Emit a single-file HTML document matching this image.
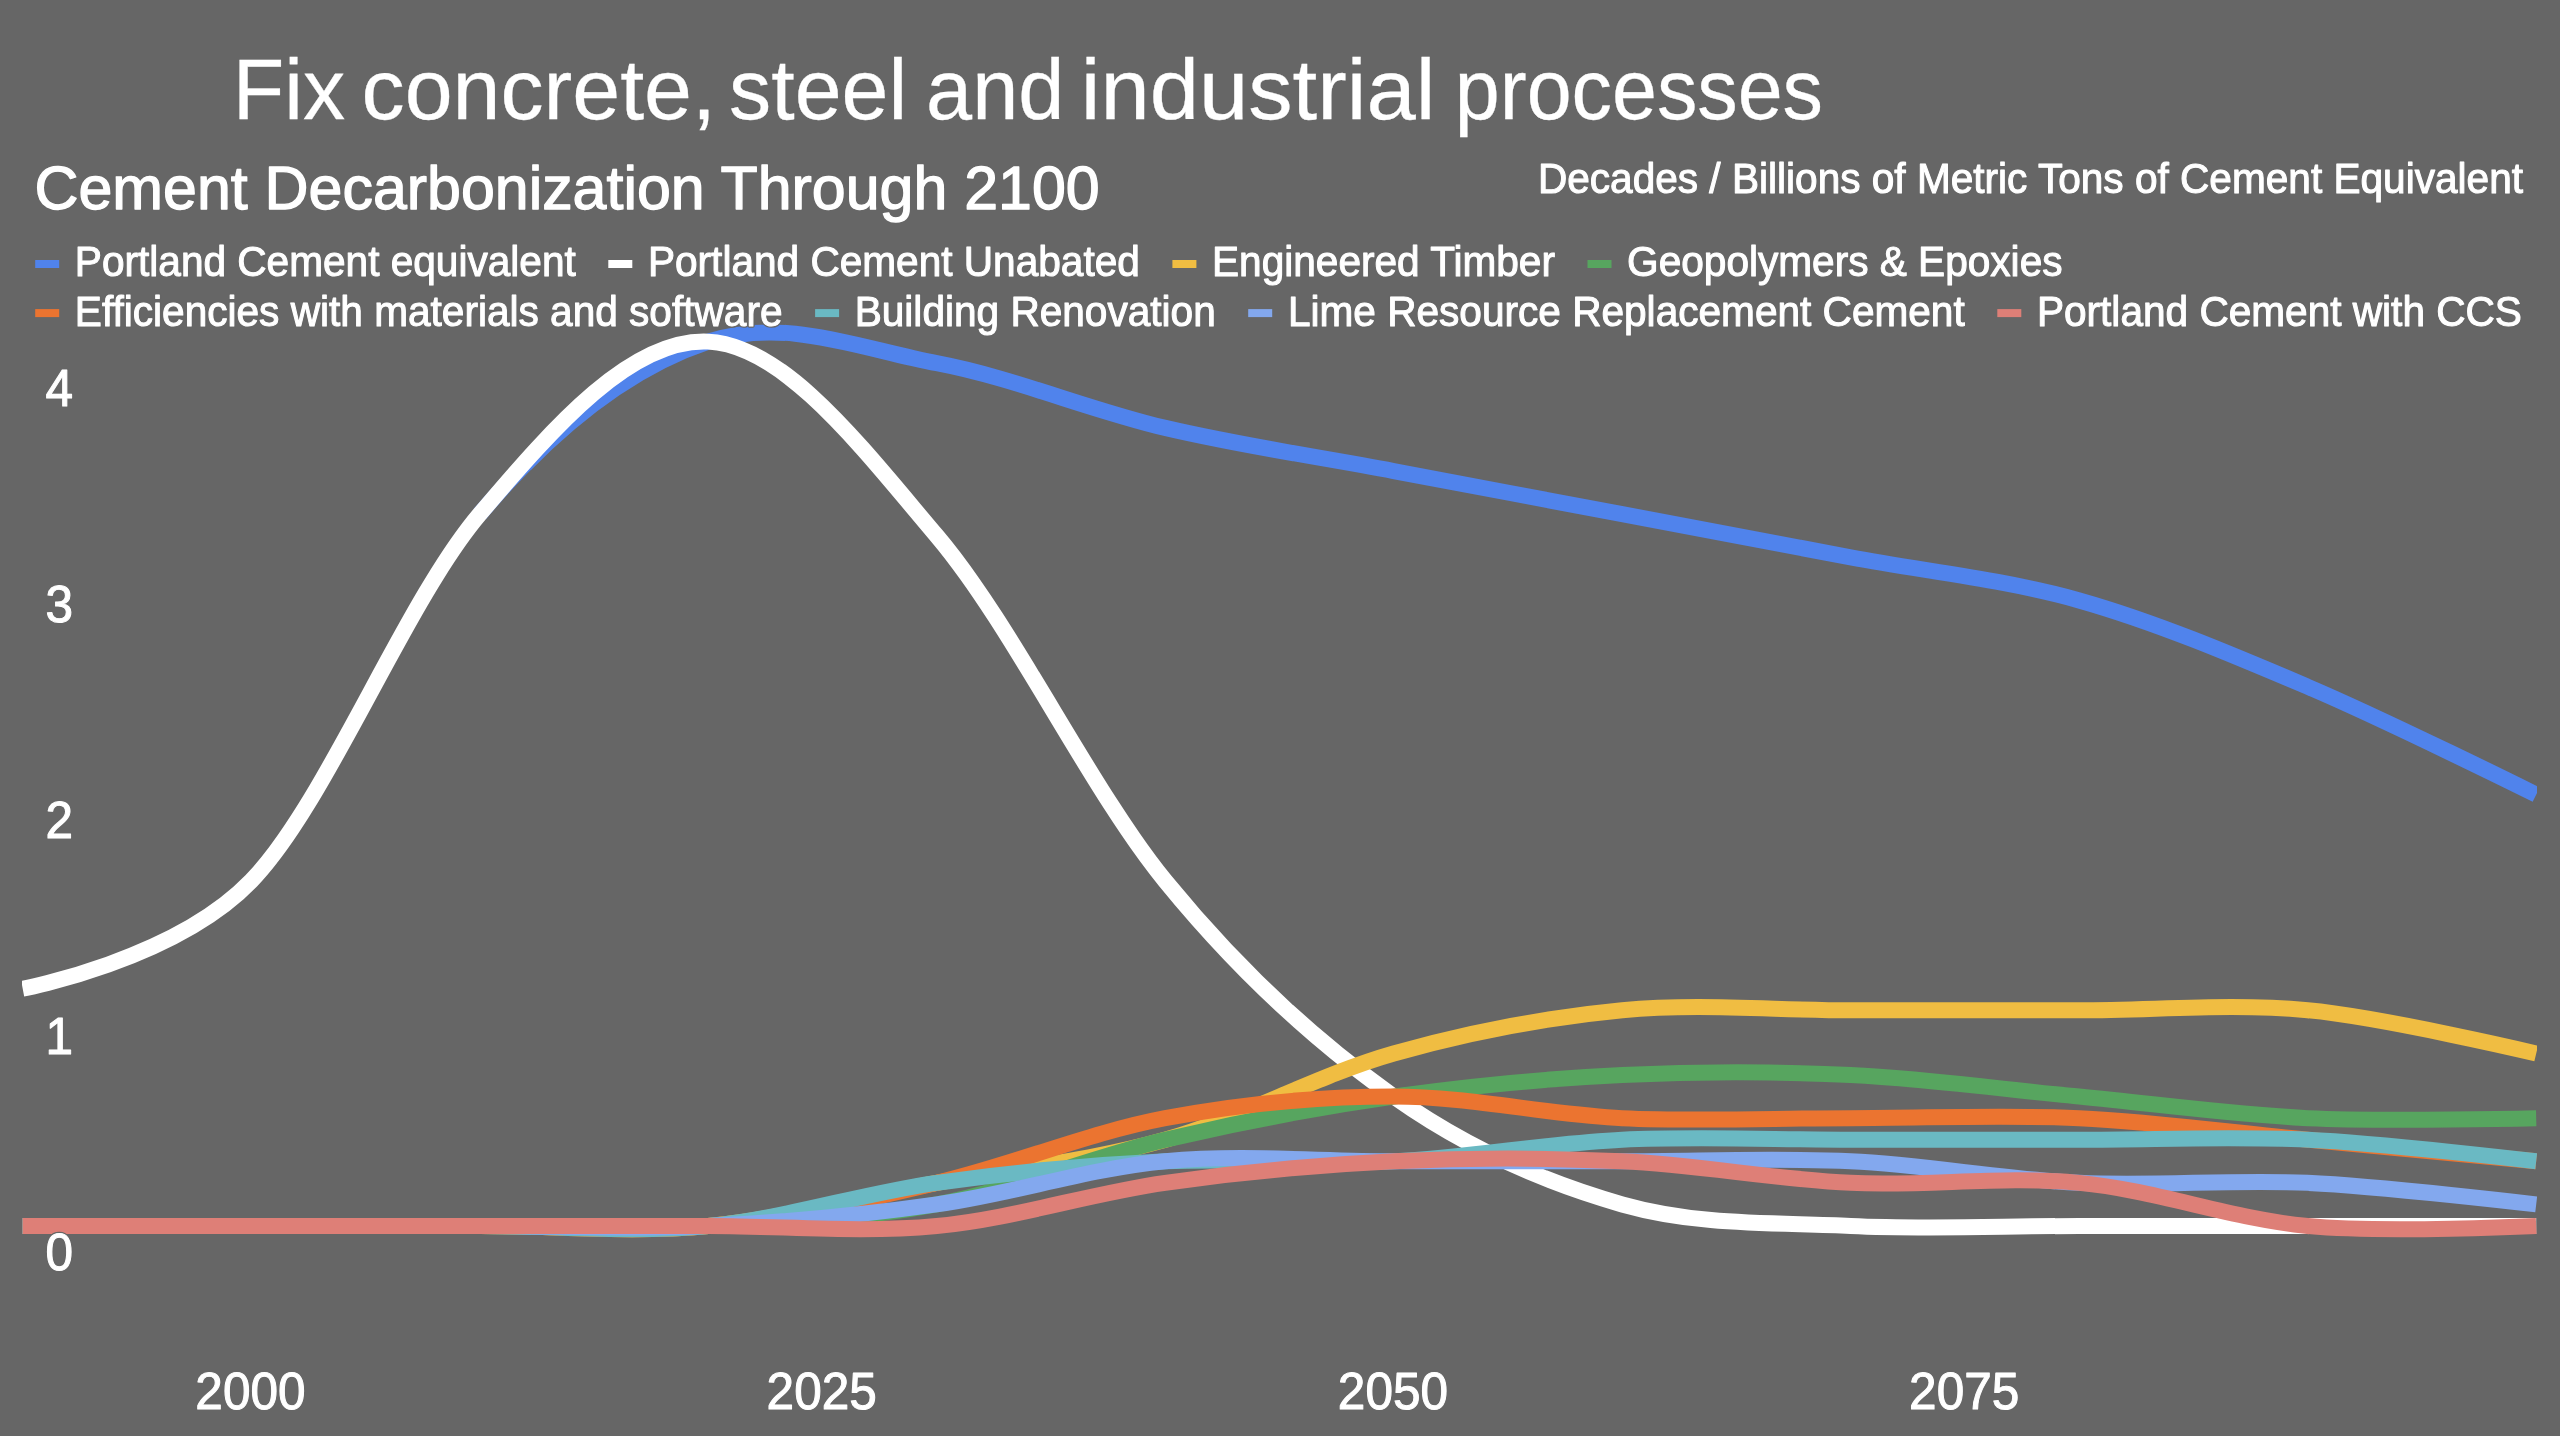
<!DOCTYPE html>
<html><head><meta charset="utf-8"><title>Cement Decarbonization Through 2100</title>
<style>
html,body{margin:0;padding:0;background:#666666;}
body{width:2560px;height:1436px;overflow:hidden;}
svg{display:block;font-family:"Liberation Sans",sans-serif;will-change:transform;}
.soft{filter:blur(0.6px);}
text{fill:#fff;}
.lines path{fill:none;stroke-width:16;stroke-linecap:butt;stroke-linejoin:round;}
</style></head>
<body>
<svg width="2560" height="1436" viewBox="0 0 2560 1436">
<clipPath id="ca"><rect x="22.1" y="300" width="2514" height="1000"/></clipPath>
<g class="soft">
<g class="lines" clip-path="url(#ca)">
<path d="M479.70,514.19C555.87,424.32 632.03,366.80 708.20,341.63C784.37,316.47 860.53,348.82 936.70,363.20C1012.87,377.58 1089.03,409.93 1165.20,427.91C1241.37,445.88 1317.53,456.67 1393.70,471.05C1469.87,485.43 1546.03,499.81 1622.20,514.19C1698.37,528.57 1774.53,542.95 1850.70,557.33C1926.87,571.71 2003.03,578.90 2079.20,600.47C2155.37,622.04 2231.53,654.39 2307.70,686.75C2383.87,719.11 2536.20,794.60 2536.20,794.60" stroke="#5083ec"/>
<path d="M22.70,988.73C22.70,988.73 175.03,959.97 251.20,880.88C327.37,801.79 403.53,604.07 479.70,514.19C555.87,424.32 632.03,338.04 708.20,341.63C784.37,345.23 860.53,445.88 936.70,535.76C1012.87,625.63 1089.03,787.41 1165.20,880.88C1241.37,974.35 1317.53,1042.65 1393.70,1096.58C1469.87,1150.50 1546.03,1182.86 1622.20,1204.43C1698.37,1226.00 1774.53,1222.40 1850.70,1226.00C1926.87,1229.60 2003.03,1226.00 2079.20,1226.00C2155.37,1226.00 2231.53,1226.00 2307.70,1226.00C2383.87,1226.00 2536.20,1226.00 2536.20,1226.00" stroke="#ffffff"/>
<path d="M22.70,1226.00C22.70,1226.00 175.03,1226.00 251.20,1226.00C327.37,1226.00 403.53,1226.00 479.70,1226.00C555.87,1226.00 632.03,1233.19 708.20,1226.00C784.37,1218.81 860.53,1197.24 936.70,1182.86C1012.87,1168.48 1089.03,1161.29 1165.20,1139.72C1241.37,1118.15 1317.53,1075.01 1393.70,1053.44C1469.87,1031.87 1546.03,1017.49 1622.20,1010.30C1698.37,1003.11 1774.53,1010.30 1850.70,1010.30C1926.87,1010.30 2003.03,1010.30 2079.20,1010.30C2155.37,1010.30 2231.53,1003.11 2307.70,1010.30C2383.87,1017.49 2536.20,1053.44 2536.20,1053.44" stroke="#f0bd42"/>
<path d="M22.70,1226.00C22.70,1226.00 175.03,1226.00 251.20,1226.00C327.37,1226.00 403.53,1226.00 479.70,1226.00C555.87,1226.00 632.03,1229.60 708.20,1226.00C784.37,1222.40 860.53,1218.81 936.70,1204.43C1012.87,1190.05 1089.03,1157.70 1165.20,1139.72C1241.37,1121.74 1317.53,1107.37 1393.70,1096.58C1469.87,1085.79 1546.03,1078.61 1622.20,1075.01C1698.37,1071.41 1774.53,1071.41 1850.70,1075.01C1926.87,1078.61 2003.03,1089.39 2079.20,1096.58C2155.37,1103.77 2231.53,1114.56 2307.70,1118.15C2383.87,1121.75 2536.20,1118.15 2536.20,1118.15" stroke="#57a55f"/>
<path d="M22.70,1226.00C22.70,1226.00 175.03,1226.00 251.20,1226.00C327.37,1226.00 403.53,1226.00 479.70,1226.00C555.87,1226.00 632.03,1233.19 708.20,1226.00C784.37,1218.81 860.53,1200.83 936.70,1182.86C1012.87,1164.88 1089.03,1132.53 1165.20,1118.15C1241.37,1103.77 1317.53,1096.58 1393.70,1096.58C1469.87,1096.58 1546.03,1114.56 1622.20,1118.15C1698.37,1121.75 1774.53,1118.15 1850.70,1118.15C1926.87,1118.15 2003.03,1114.56 2079.20,1118.15C2155.37,1121.75 2231.53,1132.53 2307.70,1139.72C2383.87,1146.91 2536.20,1161.29 2536.20,1161.29" stroke="#eb7430"/>
<path d="M22.70,1226.00C22.70,1226.00 175.03,1226.00 251.20,1226.00C327.37,1226.00 403.53,1226.00 479.70,1226.00C555.87,1226.00 632.03,1233.19 708.20,1226.00C784.37,1218.81 860.53,1193.64 936.70,1182.86C1012.87,1172.07 1089.03,1164.88 1165.20,1161.29C1241.37,1157.69 1317.53,1164.88 1393.70,1161.29C1469.87,1157.69 1546.03,1143.32 1622.20,1139.72C1698.37,1136.12 1774.53,1139.72 1850.70,1139.72C1926.87,1139.72 2003.03,1139.72 2079.20,1139.72C2155.37,1139.72 2231.53,1136.12 2307.70,1139.72C2383.87,1143.32 2536.20,1161.29 2536.20,1161.29" stroke="#6ab9c3"/>
<path d="M22.70,1226.00C22.70,1226.00 175.03,1226.00 251.20,1226.00C327.37,1226.00 403.53,1226.00 479.70,1226.00C555.87,1226.00 632.03,1229.60 708.20,1226.00C784.37,1222.40 860.53,1215.22 936.70,1204.43C1012.87,1193.64 1089.03,1168.48 1165.20,1161.29C1241.37,1154.10 1317.53,1161.29 1393.70,1161.29C1469.87,1161.29 1546.03,1161.29 1622.20,1161.29C1698.37,1161.29 1774.53,1157.69 1850.70,1161.29C1926.87,1164.88 2003.03,1179.26 2079.20,1182.86C2155.37,1186.45 2231.53,1179.26 2307.70,1182.86C2383.87,1186.45 2536.20,1204.43 2536.20,1204.43" stroke="#83a8ee"/>
<path d="M22.70,1226.00C22.70,1226.00 175.03,1226.00 251.20,1226.00C327.37,1226.00 403.53,1226.00 479.70,1226.00C555.87,1226.00 632.03,1226.00 708.20,1226.00C784.37,1226.00 860.53,1233.19 936.70,1226.00C1012.87,1218.81 1089.03,1193.64 1165.20,1182.86C1241.37,1172.07 1317.53,1164.88 1393.70,1161.29C1469.87,1157.69 1546.03,1157.69 1622.20,1161.29C1698.37,1164.88 1774.53,1179.26 1850.70,1182.86C1926.87,1186.45 2003.03,1175.67 2079.20,1182.86C2155.37,1190.05 2231.53,1218.81 2307.70,1226.00C2383.87,1233.19 2536.20,1226.00 2536.20,1226.00" stroke="#de7f77"/>
</g>
<g class="ylabels"><g transform="translate(45.40,1270.10) scale(1,1.05)"><text font-size="49.5" fill="#666666" stroke="#666666" stroke-width="3.50" stroke-linejoin="round">0</text><text font-size="49.5" stroke="#fff" stroke-width="1.00" stroke-linejoin="round">0</text></g><g transform="translate(45.40,1054.10) scale(1,1.05)"><text font-size="49.5" stroke="#fff" stroke-width="1.00" stroke-linejoin="round">1</text></g><g transform="translate(45.40,838.10) scale(1,1.05)"><text font-size="49.5" stroke="#fff" stroke-width="1.00" stroke-linejoin="round">2</text></g><g transform="translate(45.40,622.10) scale(1,1.05)"><text font-size="49.5" stroke="#fff" stroke-width="1.00" stroke-linejoin="round">3</text></g><g transform="translate(45.40,406.10) scale(1,1.05)"><text font-size="49.5" stroke="#fff" stroke-width="1.00" stroke-linejoin="round">4</text></g></g>
<g class="xlabels"><g transform="translate(250.40,1409.00) scale(1,1.04)"><text font-size="49.5" text-anchor="middle" stroke="#fff" stroke-width="1.00" stroke-linejoin="round">2000</text></g><g transform="translate(821.65,1409.00) scale(1,1.04)"><text font-size="49.5" text-anchor="middle" stroke="#fff" stroke-width="1.00" stroke-linejoin="round">2025</text></g><g transform="translate(1392.90,1409.00) scale(1,1.04)"><text font-size="49.5" text-anchor="middle" stroke="#fff" stroke-width="1.00" stroke-linejoin="round">2050</text></g><g transform="translate(1964.15,1409.00) scale(1,1.04)"><text font-size="49.5" text-anchor="middle" stroke="#fff" stroke-width="1.00" stroke-linejoin="round">2075</text></g></g>
<g class="legend">
<rect x="35.2" y="260.0" width="24" height="8" fill="#5083ec"/>
<g transform="translate(74.85,276.40) scale(1,1.03)"><text font-size="40.60" stroke="#fff" stroke-width="1.00" stroke-linejoin="round">Portland Cement equivalent</text></g>
<rect x="608.3" y="260.0" width="24" height="8" fill="#ffffff"/>
<g transform="translate(647.94,276.40) scale(1,1.03)"><text font-size="40.60" stroke="#fff" stroke-width="1.00" stroke-linejoin="round">Portland Cement Unabated</text></g>
<rect x="1172.4" y="260.0" width="24" height="8" fill="#f0bd42"/>
<g transform="translate(1212.01,276.40) scale(1,1.03)"><text font-size="40.60" stroke="#fff" stroke-width="1.00" stroke-linejoin="round">Engineered Timber</text></g>
<rect x="1587.5" y="260.0" width="24" height="8" fill="#57a55f"/>
<g transform="translate(1627.10,276.40) scale(1,1.03)"><text font-size="40.60" stroke="#fff" stroke-width="1.00" stroke-linejoin="round">Geopolymers &amp; Epoxies</text></g>
<rect x="35.2" y="309.1" width="24" height="8" fill="#eb7430"/>
<g transform="translate(74.85,325.50) scale(1,1.03)"><text font-size="40.60" fill="#666666" stroke="#666666" stroke-width="3.50" stroke-linejoin="round">Efficiencies with materials and software</text><text font-size="40.60" stroke="#fff" stroke-width="1.00" stroke-linejoin="round">Efficiencies with materials and software</text></g>
<rect x="815.1" y="309.1" width="24" height="8" fill="#6ab9c3"/>
<g transform="translate(854.70,325.50) scale(1,1.03)"><text font-size="40.60" fill="#666666" stroke="#666666" stroke-width="3.50" stroke-linejoin="round">Building Renovation</text><text font-size="40.60" stroke="#fff" stroke-width="1.00" stroke-linejoin="round">Building Renovation</text></g>
<rect x="1248.2" y="309.1" width="24" height="8" fill="#83a8ee"/>
<g transform="translate(1287.90,325.50) scale(1,1.03)"><text font-size="40.60" fill="#666666" stroke="#666666" stroke-width="3.50" stroke-linejoin="round">Lime Resource Replacement Cement</text><text font-size="40.60" stroke="#fff" stroke-width="1.00" stroke-linejoin="round">Lime Resource Replacement Cement</text></g>
<rect x="1997.3" y="309.1" width="24" height="8" fill="#de7f77"/>
<g transform="translate(2036.93,325.50) scale(1,1.03)"><text font-size="40.60" fill="#666666" stroke="#666666" stroke-width="3.50" stroke-linejoin="round">Portland Cement with CCS</text><text font-size="40.60" stroke="#fff" stroke-width="1.00" stroke-linejoin="round">Portland Cement with CCS</text></g>
</g>
</g>
<g class="soft"><g transform="translate(34.50,208.50) scale(1,1.0)"><text font-size="60.9" stroke="#fff" stroke-width="1.30" stroke-linejoin="round">Cement Decarbonization Through 2100</text></g><g transform="translate(2523.00,193.00) scale(1,1.04)"><text font-size="40.6" text-anchor="end" stroke="#fff" stroke-width="1.00" stroke-linejoin="round">Decades / Billions of Metric Tons of Cement Equivalent</text></g></g><g transform="translate(232.65,119.4) scale(0.9809,1)"><text font-size="86" stroke="#fff" stroke-width="0.3">Fix</text></g><g transform="translate(361.55,119.4) scale(1.0021,1)"><text font-size="86" stroke="#fff" stroke-width="0.3">concrete,</text></g><g transform="translate(729.07,119.4) scale(0.9803,1)"><text font-size="86" stroke="#fff" stroke-width="0.3">steel</text></g><g transform="translate(926.08,119.4) scale(0.9641,1)"><text font-size="86" stroke="#fff" stroke-width="0.3">and</text></g><g transform="translate(1080.69,119.4) scale(1.0309,1)"><text font-size="86" stroke="#fff" stroke-width="0.3">industrial</text></g><g transform="translate(1454.85,119.4) scale(0.9394,1)"><text font-size="86" stroke="#fff" stroke-width="0.3">processes</text></g>
</svg>
</body></html>
